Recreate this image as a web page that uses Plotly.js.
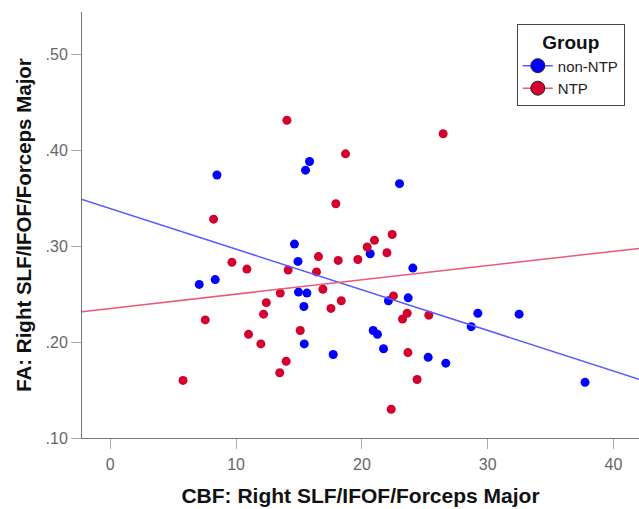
<!DOCTYPE html>
<html>
<head>
<meta charset="utf-8">
<script src="https://cdn.plot.ly/plotly-3.0.1.min.js"></script>
<style>html,body{margin:0;padding:0;background:#fff;}#chart{width:639px;height:509px;}</style>
</head>
<body>
<div id="chart"></div>
<script>
// ---- Data ----
const groupNames = ["non-NTP", "NTP"];

const nonNtpCBF = [7.07, 8.34, 8.48, 14.64, 14.92, 14.96, 15.63, 15.39, 15.42, 15.52, 15.84, 17.72, 20.66,
  20.90, 21.24, 21.72, 22.11, 22.99, 23.68, 24.05, 25.27, 26.67, 28.69, 29.22, 32.50, 37.74];
const nonNtpFA = [0.260, 0.265, 0.374, 0.302, 0.284, 0.252, 0.251, 0.237, 0.198, 0.379, 0.388, 0.187, 0.292,
  0.212, 0.208, 0.193, 0.243, 0.365, 0.246, 0.277, 0.184, 0.178, 0.216, 0.230, 0.229, 0.158];

const ntpCBF = [5.78, 7.55, 8.21, 9.67, 10.86, 10.99, 11.97, 12.18, 12.40, 13.51, 13.47, 13.98, 14.04, 14.14,
  15.10, 16.39, 16.55, 16.90, 17.54, 17.93, 18.12, 18.36, 18.70, 19.68, 20.42, 21.00, 21.99, 22.33, 22.41,
  22.51, 23.23, 23.60, 23.66, 24.39, 25.32, 26.46];
const ntpFA = [0.160, 0.223, 0.328, 0.283, 0.276, 0.208, 0.198, 0.229, 0.241, 0.251, 0.168, 0.180, 0.431, 0.275,
  0.212, 0.273, 0.289, 0.255, 0.235, 0.344, 0.285, 0.243, 0.396, 0.286, 0.299, 0.306, 0.293, 0.130, 0.312,
  0.248, 0.224, 0.230, 0.189, 0.161, 0.228, 0.417];

// Fit lines (intercept, slope)
const nonNtpFit = [0.339, -0.00423];
const ntpFit = [0.235, 0.001488];

const xTickVals = [0, 10, 20, 30, 40];
const yTickVals = [0.10, 0.20, 0.30, 0.40, 0.50];
const yTickText = [".10", ".20", ".30", ".40", ".50"];

// ---- Styles ----
const xRange = [-2.25, 42.03];
const yRange = [0.10, 0.5438];
const blue = "#0000ff", red = "#d4002e";
const blueLine = "#5a5aff", redLine = "#ea5a78";
const font = "Liberation Sans, Arial, sans-serif";

function fitY(fit, x) { return fit[0] + fit[1] * x; }

const traces = [
  {x: nonNtpCBF, y: nonNtpFA, type: "scatter", mode: "markers", showlegend: false,
   marker: {color: blue, size: 9}},
  {x: ntpCBF, y: ntpFA, type: "scatter", mode: "markers", showlegend: false,
   marker: {color: red, size: 9}},
  {x: xRange, y: xRange.map(v => fitY(nonNtpFit, v)), type: "scatter", mode: "lines", showlegend: false,
   line: {color: blueLine, width: 1.5}, hoverinfo: "skip"},
  {x: xRange, y: xRange.map(v => fitY(ntpFit, v)), type: "scatter", mode: "lines", showlegend: false,
   line: {color: redLine, width: 1.5}, hoverinfo: "skip"},
  {x: [null], y: [null], name: groupNames[0], type: "scatter", mode: "lines+markers",
   marker: {color: blue, size: 14, line: {color: "#222", width: 1}}, line: {color: blueLine, width: 1.5}},
  {x: [null], y: [null], name: groupNames[1], type: "scatter", mode: "lines+markers",
   marker: {color: red, size: 14, line: {color: "#222", width: 1}}, line: {color: redLine, width: 1.5}}
];

const layout = {
  width: 639, height: 509,
  margin: {l: 82, r: 0, t: 12, b: 71, pad: 0},
  paper_bgcolor: "#fff", plot_bgcolor: "#fff",
  font: {family: font, color: "#555"},
  showlegend: true,
  xaxis: {
    range: xRange, tickvals: xTickVals, ticks: "outside", ticklen: 10, tickcolor: "#aaa",
    ticklabelstandoff: 2,
    showgrid: false, zeroline: false, showline: true, linecolor: "#777", linewidth: 1,
    tickfont: {size: 16, color: "#666", family: font},
    title: {text: "<b>CBF: Right SLF/IFOF/Forceps Major</b>", font: {size: 21, color: "#111", family: font}, standoff: 16}
  },
  yaxis: {
    range: yRange, tickvals: yTickVals, ticktext: yTickText, ticks: "outside", ticklen: 10, tickcolor: "#aaa",
    showgrid: false, zeroline: false, showline: true, linecolor: "#777", linewidth: 1,
    tickfont: {size: 16, color: "#666", family: font},
    title: {text: "<b>FA: Right SLF/IFOF/Forceps Major</b>", font: {size: 20.5, color: "#111", family: font}, standoff: 8}
  },
  legend: {
    x: 0.7806, y: 0.9725, xanchor: "left", yanchor: "top",
    bgcolor: "#fff", bordercolor: "#444", borderwidth: 1,
    font: {size: 15, color: "#222", family: font},
    title: {text: "<b>Group</b>", font: {size: 19, color: "#111", family: font}, side: "top center"},
    itemwidth: 30, tracegroupgap: 0
  }
};

Plotly.newPlot("chart", traces, layout, {displayModeBar: false, staticPlot: true});
</script>
</body>
</html>
